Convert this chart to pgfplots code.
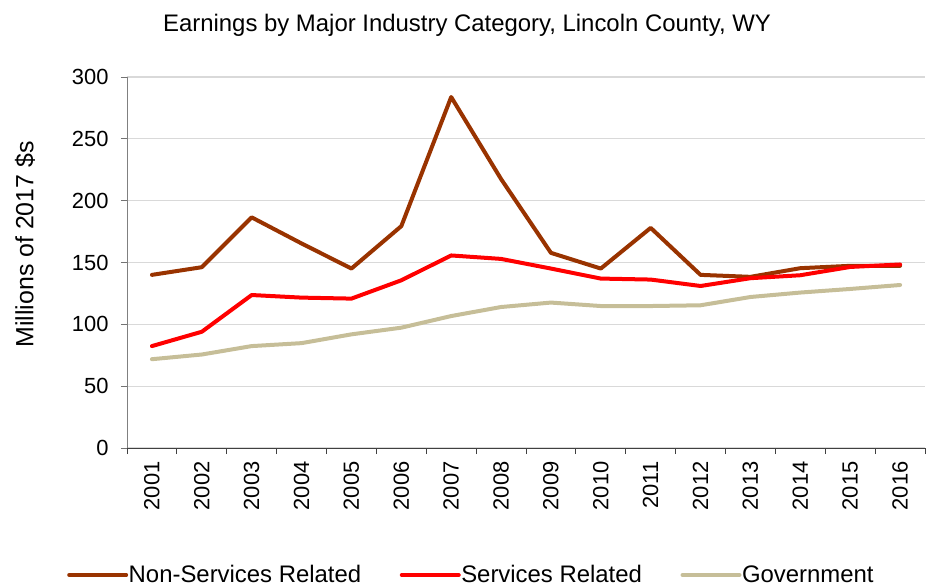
\documentclass[border=0pt]{standalone}
\usepackage{pgfplots}
\pgfplotsset{compat=1.18}
\usepackage{fontspec}
\setmainfont{Liberation Sans}
\definecolor{nonserv}{RGB}{153,51,0}
\definecolor{serv}{RGB}{255,0,0}
\definecolor{gov}{RGB}{198,190,152}
\definecolor{gridc}{RGB}{217,217,217}
\begin{document}
\begin{tikzpicture}[x=1bp,y=1bp]
\useasboundingbox (-127bp,-140bp) rectangle (800bp,448bp);
\begin{axis}[
  at={(0,0)}, anchor=south west,
  scale only axis,
  width=798bp, height=371bp,
  xmin=0.5, xmax=16.5,
  ymin=0, ymax=300,
  xtick={1,...,16},
  xticklabels={2001,2002,2003,2004,2005,2006,2007,2008,2009,2010,2011,2012,2013,2014,2015,2016},
  x tick label style={rotate=90, anchor=east, font=\fontsize{22}{24}\selectfont},
  xtick style={draw=none},
  minor xtick={0.5,1.5,...,16.5},
  minor x tick style={draw=black!75, line width=0.9bp},
  minor tick length=6bp,
  ytick={0,50,...,300},
  y tick label style={font=\fontsize{22}{24}\selectfont},
  ytick style={draw=black!55, line width=0.9bp},
  major tick length=6bp,
  tick align=outside,
  xticklabel shift=4bp,
  yticklabel shift=9bp,
  /pgf/number format/assume math mode=true,
  ymajorgrids,
  grid style={gridc, line width=1.2bp},
  axis x line*=bottom,
  axis y line*=left,
  x axis line style={-, draw=black!75, line width=0.9bp},
  y axis line style={-, draw=black!50, line width=0.9bp},
  ylabel={Millions of 2017 \$s},
  ylabel style={font=\fontsize{25}{28}\selectfont, at={(axis description cs:-0.1278,0.549)}, anchor=center},
  title={Earnings by Major Industry Category, Lincoln County, WY},
  title style={font=\fontsize{24}{26}\selectfont, at={(axis description cs:0.5,1)}, xshift=-59bp, yshift=40bp, anchor=base},
  legend columns=3,
  legend style={draw=none, fill=none, at={(axis description cs:0,0)}, anchor=west, xshift=-60bp, yshift=-127bp,
    inner sep=0pt, nodes={inner xsep=0.5bp, inner ysep=1bp},
    font=\fontsize{24}{26}\selectfont, column sep=0bp, /tikz/every even column/.append style={column sep=38bp}},
  legend image code/.code={\draw[#1, line width=4bp] (0bp,0bp) -- (57bp,0bp);},
  every axis plot/.append style={line width=4bp, line join=round, line cap=round},
]
\addplot[nonserv] coordinates {
(1,140.0) (2,146.2) (3,186.5) (4,165.4) (5,145.1) (6,179.4) (7,283.8) (8,217.5)
(9,157.8) (10,145.1) (11,178.0) (12,140.0) (13,138.4) (14,145.4) (15,147.3) (16,147.3)};
\addlegendentry{Non-Services Related}
\addplot[serv] coordinates {
(1,82.4) (2,94.0) (3,123.7) (4,121.6) (5,120.8) (6,135.6) (7,155.7) (8,152.9)
(9,145.1) (10,137.0) (11,136.2) (12,131.0) (13,137.3) (14,139.7) (15,146.4) (16,148.4)};
\addlegendentry{Services Related}
\addplot[gov] coordinates {
(1,71.8) (2,75.6) (3,82.4) (4,84.8) (5,91.9) (6,97.3) (7,106.7) (8,114.0)
(9,117.6) (10,114.8) (11,114.8) (12,115.4) (13,122.1) (14,125.7) (15,128.6) (16,131.8)};
\addlegendentry{Government}
\end{axis}
\end{tikzpicture}
\end{document}
